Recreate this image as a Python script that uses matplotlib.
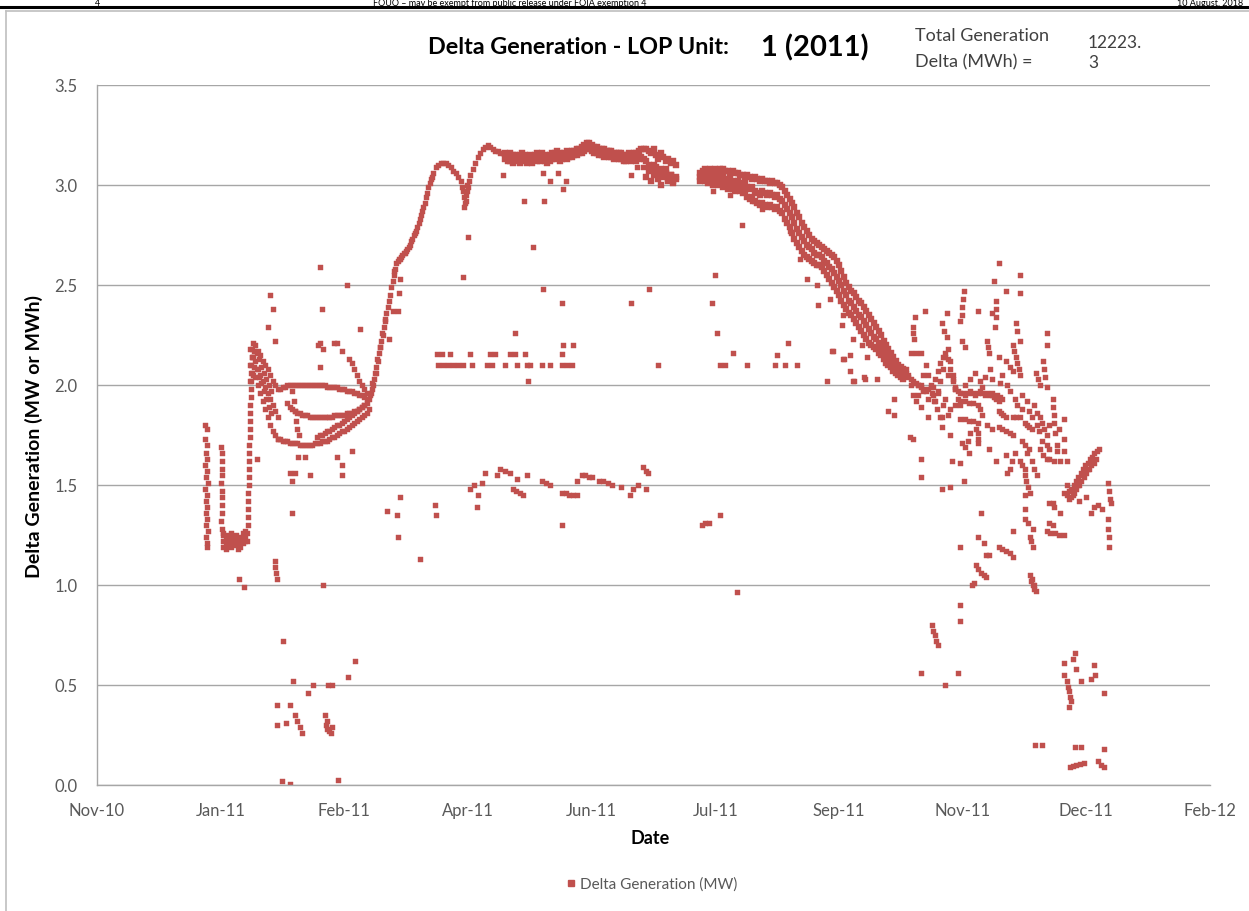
import numpy as np
import pandas as pd
import matplotlib
matplotlib.use('Agg')
import matplotlib.pyplot as plt
import matplotlib.dates as mdates
from matplotlib.lines import Line2D

plt.rcParams['font.family'] = ['Lato', 'DejaVu Sans']

# ---- data: day of year 2011 (0 = 1 Jan) and delta generation (MW) ----

# January: two vertical columns and the low cluster
jan_col1_days = [-0.3, 0.4, -0.2, 0.5, -0.1, 0.6, -0.3, 0.4, 0.0, 0.7, -0.2, 0.5, 0.1, 0.6, -0.1, 0.4, 0.2, 0.7, 0.0, 0.5, 0.3]
jan_col1_vals = [1.80, 1.78, 1.73, 1.70, 1.66, 1.63, 1.60, 1.57, 1.54, 1.51, 1.48, 1.45, 1.42, 1.39, 1.36, 1.33, 1.30, 1.27, 1.24, 1.21, 1.19]
jan_col2_days = [6.3, 6.6, 6.4, 6.7, 6.5, 6.3, 6.6, 6.4, 6.7, 6.5, 6.3, 6.6, 6.8]
jan_col2_vals = [1.69, 1.66, 1.62, 1.58, 1.55, 1.51, 1.47, 1.44, 1.40, 1.36, 1.32, 1.28, 1.25]
jan_low_start = 7
jan_low_top = [1.26, 1.24, 1.25, 1.26, 1.24, 1.25, 1.23, 1.24, 1.26, 1.27]
jan_low_mid = [1.22, 1.21, 1.23, 1.22, 1.22, 1.23, 1.21, 1.22, 1.24, 1.24]
jan_low_bot = [1.19, 1.18, 1.20, 1.19, 1.21, 1.20, 1.18, 1.19, 1.21, 1.22]
jan_rise_days = [16.7, 16.8, 16.9, 17.0, 17.0, 17.1, 17.2, 17.3, 17.3, 17.4, 17.5, 17.6, 17.6, 17.7,
                 17.8, 17.9, 17.9, 18.0, 18.1, 18.2, 18.2, 18.3, 18.4, 18.5, 18.6]
jan_rise_vals = [1.22, 1.26, 1.30, 1.34, 1.38, 1.42, 1.46, 1.50, 1.54, 1.58, 1.62, 1.66, 1.70, 1.74,
                 1.78, 1.82, 1.86, 1.90, 1.94, 1.98, 2.02, 2.06, 2.10, 2.14, 2.18]

# late January / February loops
feb_start = 18
feb_top = [2.18, 2.21, 2.20, 2.17, 2.15, 2.12, 2.10, 2.08, 2.05, 2.02, 2.00, 1.98]
feb_mid = [2.10, 2.14, 2.12, 2.08, 2.05, 2.02, 1.99, 1.96, 1.93, 1.90, 1.87, 1.84]
feb_bot = [2.02, 2.05, 2.04, 2.00, 1.96, 1.92, 1.88, 1.84, 1.80, 1.77, 1.75, 1.73]
feb_half_start = 18.5
feb_half_a = [2.14, 2.17, 2.16, 2.13, 2.09, 2.06, 2.03, 2.00, 1.97]
feb_half_b = [2.06, 2.09, 2.08, 2.04, 2.01, 1.97, 1.93, 1.89, 1.86]
arc_up_start = 30
arc_up = [1.98, 1.99, 1.99, 2.00, 2.00, 2.00, 2.00, 2.00, 2.00, 2.00,
          2.00, 2.00, 2.00, 2.00, 2.00, 2.00, 2.00, 2.00, 2.00, 1.99,
          1.99, 1.99, 1.99, 1.99, 1.98, 1.98, 1.98, 1.97, 1.97, 1.97,
          1.96, 1.96, 1.95, 1.95, 1.94, 1.93]
arc_low_start = 33
arc_low = [1.91, 1.89, 1.88, 1.87, 1.86, 1.86, 1.85, 1.85, 1.85, 1.84,
           1.84, 1.84, 1.84, 1.84, 1.84, 1.84, 1.84, 1.84, 1.84, 1.85,
           1.85, 1.85, 1.85, 1.85, 1.86, 1.86, 1.86, 1.87, 1.87, 1.88,
           1.89, 1.90, 1.91]
feb_floor_start = 29
feb_floor = [1.73, 1.73, 1.72, 1.72, 1.72, 1.71, 1.71, 1.71, 1.71, 1.70,
             1.70, 1.70, 1.70, 1.70, 1.70, 1.71, 1.71, 1.71, 1.72, 1.72,
             1.72, 1.73, 1.74, 1.74, 1.75, 1.76, 1.77, 1.77, 1.78, 1.79,
             1.80, 1.81, 1.82, 1.83, 1.84, 1.85, 1.86, 1.88]
feb_ramp_start = 45
feb_ramp = [1.74, 1.75, 1.75, 1.76, 1.77, 1.77, 1.78, 1.79, 1.80, 1.80,
            1.81, 1.82, 1.83, 1.84, 1.85, 1.86, 1.87, 1.88, 1.89, 1.90]
feb_slash_start = 58
feb_slash = [2.13, 2.11, 2.08, 2.05, 2.02, 2.00, 1.98, 1.96]

# spring rise to the summer plateau
spring_start = 66
spring = [1.93, 1.98, 2.03, 2.09, 2.16, 2.22, 2.29, 2.36, 2.42, 2.49,
          2.55, 2.61, 2.63, 2.64, 2.66, 2.67, 2.69, 2.72, 2.75, 2.77,
          2.81, 2.85, 2.89, 2.94, 2.99, 3.03, 3.06, 3.09, 3.10, 3.11,
          3.11, 3.11, 3.10, 3.09, 3.07, 3.06, 3.04, 3.02, 2.97, 2.92,
          2.99, 3.05, 3.08, 3.11, 3.14, 3.16, 3.18, 3.19, 3.20, 3.19,
          3.18, 3.17, 3.17, 3.16, 3.16]
spring_half_start = 66.5
spring_half = [1.95, 2.00, 2.06, 2.12, 2.19, 2.25, 2.32, 2.39, 2.45, 2.52,
               2.58, 2.62, 2.63, 2.65, 2.66, 2.68, 2.70, 2.73, 2.76, 2.79,
               2.83, 2.87, 2.91, 2.96, 3.01, 3.04]

# plateau April - July
plateau_start = 121
plateau_top = [3.16, 3.15, 3.16, 3.15, 3.15, 3.14, 3.15, 3.16, 3.15, 3.14,
               3.15, 3.14, 3.15, 3.16, 3.15, 3.16, 3.15, 3.14, 3.15, 3.16,
               3.16, 3.17, 3.16, 3.15, 3.16, 3.17, 3.16, 3.17, 3.17, 3.18,
               3.18, 3.19, 3.20, 3.21, 3.21, 3.20, 3.19, 3.19, 3.18, 3.18,
               3.18, 3.17, 3.17, 3.17, 3.16, 3.16, 3.16, 3.16, 3.15, 3.15,
               3.16, 3.15, 3.16, 3.16, 3.17, 3.18, 3.18, 3.18, 3.17, 3.16,
               3.18, 3.15, 3.13, 3.16, 3.14, 3.12, 3.13, 3.11, 3.12, 3.10]
plateau_bot = [3.13, 3.12, 3.12, 3.11, 3.13, 3.12, 3.11, 3.13, 3.12, 3.11,
               3.12, 3.11, 3.13, 3.12, 3.12, 3.13, 3.12, 3.11, 3.12, 3.13,
               3.13, 3.14, 3.12, 3.13, 3.14, 3.13, 3.14, 3.14, 3.15, 3.15,
               3.16, 3.16, 3.17, 3.18, 3.18, 3.17, 3.16, 3.16, 3.15, 3.15,
               3.14, 3.15, 3.14, 3.14, 3.13, 3.14, 3.13, 3.13, 3.12, 3.12,
               3.13, 3.12, 3.13, 3.12, 3.13, 3.14, 3.13, 3.12, 3.10, 3.08,
               3.10, 3.06, 3.05, 3.08, 3.04, 3.06, 3.03, 3.05, 3.02, 3.04]
plateau_tail_start = 178
plateau_tail = [3.04, 3.07, 3.02, 3.05, 3.09, 3.03, 3.00, 3.06, 3.08, 3.02, 3.05, 3.01, 3.03]

# summer decline July - October
summer_start = 200
summer_top = [3.06, 3.07, 3.08, 3.07, 3.08, 3.07, 3.08, 3.07, 3.08, 3.08,
              3.07, 3.07, 3.06, 3.07, 3.06, 3.06, 3.05, 3.05, 3.04, 3.05,
              3.04, 3.03, 3.04, 3.03, 3.02, 3.03, 3.02, 3.02, 3.01, 3.02,
              3.01, 3.01, 3.00, 2.99, 2.97, 2.95, 2.93, 2.91, 2.89, 2.86,
              2.84, 2.81, 2.79, 2.77, 2.75, 2.73, 2.72, 2.71, 2.70, 2.69,
              2.68, 2.67, 2.66, 2.65, 2.64, 2.62, 2.60, 2.57, 2.54, 2.51,
              2.49, 2.47, 2.46, 2.44, 2.42, 2.41, 2.39, 2.37, 2.35, 2.33,
              2.31, 2.29, 2.27, 2.25, 2.22, 2.20, 2.18, 2.16, 2.14, 2.12,
              2.10, 2.09, 2.08]
summer_mid = [3.04, 3.05, 3.05, 3.04, 3.05, 3.03, 3.04, 3.03, 3.05, 3.04,
              3.03, 3.02, 3.03, 3.02, 3.01, 3.02, 3.01, 3.00, 3.01, 2.99,
              2.98, 2.99, 2.97, 2.96, 2.95, 2.97, 2.96, 2.95, 2.96, 2.95,
              2.94, 2.95, 2.93, 2.92, 2.90, 2.88, 2.86, 2.84, 2.81, 2.78,
              2.76, 2.74, 2.72, 2.70, 2.69, 2.68, 2.66, 2.65, 2.65, 2.64,
              2.62, 2.61, 2.59, 2.58, 2.56, 2.54, 2.52, 2.50, 2.47, 2.45,
              2.42, 2.41, 2.39, 2.37, 2.35, 2.34, 2.32, 2.30, 2.28, 2.26,
              2.24, 2.23, 2.21, 2.19, 2.17, 2.15, 2.14, 2.12, 2.11, 2.09,
              2.07, 2.06, 2.05]
summer_bot = [3.02, 3.03, 3.02, 3.01, 3.02, 3.00, 3.01, 3.00, 3.01, 2.99,
              3.00, 2.98, 2.99, 2.98, 2.97, 2.98, 2.97, 2.96, 2.97, 2.94,
              2.93, 2.94, 2.92, 2.91, 2.90, 2.91, 2.90, 2.89, 2.90, 2.89,
              2.88, 2.89, 2.87, 2.86, 2.83, 2.81, 2.79, 2.76, 2.73, 2.71,
              2.69, 2.67, 2.65, 2.64, 2.63, 2.62, 2.61, 2.60, 2.60, 2.59,
              2.57, 2.55, 2.53, 2.51, 2.49, 2.47, 2.45, 2.42, 2.40, 2.38,
              2.36, 2.35, 2.33, 2.31, 2.29, 2.27, 2.25, 2.23, 2.21, 2.20,
              2.19, 2.18, 2.16, 2.15, 2.13, 2.11, 2.10, 2.09, 2.07, 2.06,
              2.05, 2.04, 2.03]

# October band with the zig-zag
oct_start = 283
oct_band = [2.06, 2.04, 2.03, 2.02, 2.01, 2.00, 1.99, 1.98, 1.97, 1.98,
            1.99, 1.99, 2.03, 2.07, 2.11, 2.14, 2.16, 2.13, 2.08, 2.03,
            1.99, 1.97, 1.96, 1.96, 1.95, 1.96, 1.97, 1.96, 1.95, 1.96,
            1.97, 1.96, 1.95, 1.96, 1.95, 1.96, 1.94, 1.95, 1.94, 1.93]
oct_zigzag = [2.08, 2.05, 2.00, 1.95, 1.92, 1.95, 2.00, 2.05, 2.10, 2.05,
              2.00, 1.95, 1.92, 1.96, 2.02, 2.08, 2.14, 2.18, 2.12, 2.05,
              1.98, 1.93, 1.90]

# scattered points (day, MW)
scatter_early = [
    (13.3, 1.03), (15.4, 0.99), (20.6, 1.63), (34.8, 1.36), (27.9, 1.12), (28.1, 1.09), (28.4, 1.06),
    (28.7, 1.03), (47.3, 1.00), (25.9, 2.45), (27.0, 2.38), (25.0, 2.29), (27.9, 2.22), (46.0, 2.59),
    (46.9, 2.38), (57.0, 2.50), (62.2, 2.28), (45.3, 2.20), (53.0, 2.21), (55.0, 2.17), (46.0, 2.09),
    (46.0, 2.21), (47.3, 2.18), (52.0, 2.21), (37.2, 1.64), (40.0, 1.64), (53.0, 1.64), (59.0, 1.67),
    (34.0, 1.56), (36.0, 1.56), (34.8, 1.52), (42.0, 1.55), (55.0, 1.60), (55.0, 1.55), (78.4, 1.44),
    (73.2, 1.37), (77.2, 1.35), (77.6, 1.24), (86.5, 1.13), (35.0, 1.97), (35.5, 1.92), (36.0, 1.87),
    (36.5, 1.82), (37.0, 1.78), (37.5, 1.75), (31.1, 0.72), (60.2, 0.62), (57.4, 0.54), (35.2, 0.52),
    (43.2, 0.50), (41.2, 0.46), (49.3, 0.50), (51.0, 0.50), (28.7, 0.40), (34.0, 0.40), (28.7, 0.30),
    (32.3, 0.31), (36.0, 0.35), (37.0, 0.32), (38.0, 0.29), (39.0, 0.26), (48.0, 0.35), (48.5, 0.30),
    (49.0, 0.28), (49.8, 0.27), (50.5, 0.26), (51.0, 0.29), (48.8, 0.32), (30.7, 0.02), (34.0, 0.005),
    (53.4, 0.025), (76.0, 2.57), (78.5, 2.53), (78.0, 2.46), (75.5, 2.37), (77.7, 2.37), (74.0, 2.23),
    (66.8, 1.96), (67.3, 2.01), (68.8, 2.06), (69.4, 2.13), (70.5, 2.19), (71.4, 2.26), (72.6, 2.33),
    (104.5, 2.89), (104.7, 2.91), (104.3, 2.94), (105.3, 2.95), (105.6, 2.97), (105.5, 3.00),
    (103.5, 2.99), (106.5, 3.02),
]
scatter_spring = [
    (93.4, 2.155), (95.4, 2.155), (98.6, 2.155), (106.7, 2.155), (114.8, 2.155), (116.8, 2.155),
    (122.9, 2.155), (124.9, 2.155), (129.0, 2.155), (143.9, 2.155), (148.3, 2.20),
    (93.8, 2.10), (95.8, 2.10), (97.8, 2.10), (99.8, 2.10), (101.9, 2.10), (103.9, 2.10), (107.5, 2.10),
    (113.6, 2.10), (115.6, 2.10), (120.9, 2.10), (125.7, 2.10), (129.7, 2.10), (131.0, 2.10),
    (135.8, 2.10), (139.0, 2.10), (143.9, 2.10), (145.9, 2.10), (147.9, 2.10), (130.2, 2.02),
    (120.0, 3.05), (128.5, 2.92), (136.6, 2.92), (136.2, 3.06), (139.0, 3.02), (142.3, 3.06),
    (144.3, 2.98), (145.5, 3.02), (132.2, 2.69), (124.9, 2.26), (171.8, 3.05), (174.2, 3.09),
    (176.6, 3.09), (103.9, 2.54), (105.9, 2.74), (136.2, 2.48), (143.9, 2.41), (171.8, 2.41),
    (179.1, 2.48), (144.3, 2.20), (182.7, 2.10),
    (92.6, 1.40), (93.0, 1.35), (109.5, 1.39), (110.0, 1.45), (111.6, 1.51), (112.8, 1.56),
    (117.6, 1.55), (118.8, 1.58), (120.9, 1.57), (122.9, 1.56), (125.7, 1.53), (129.7, 1.55),
    (124.0, 1.48), (125.5, 1.47), (127.0, 1.46), (128.2, 1.45), (136.0, 1.52), (137.5, 1.51),
    (139.0, 1.50), (144.0, 1.46), (145.5, 1.46), (147.0, 1.45), (148.5, 1.45), (150.0, 1.45),
    (150.2, 1.52), (152.0, 1.55), (153.5, 1.55), (155.0, 1.54), (156.3, 1.54), (159.0, 1.52),
    (160.6, 1.52), (162.6, 1.51), (164.2, 1.50), (168.0, 1.49), (171.4, 1.45), (172.6, 1.48),
    (174.6, 1.50), (176.6, 1.59), (177.8, 1.57), (178.7, 1.56), (177.8, 1.48), (143.9, 1.30),
    (106.7, 1.48), (108.3, 1.50),
]
scatter_summer = [
    (200.5, 1.30), (202.0, 1.31), (203.5, 1.31), (207.8, 1.35), (214.6, 0.965),
    (204.9, 2.97), (211.8, 2.95), (216.7, 2.80), (220.8, 2.92), (224.8, 2.88), (236.1, 2.77),
    (240.1, 2.63), (242.9, 2.53), (247.0, 2.50), (247.4, 2.40), (252.2, 2.43), (257.5, 2.35),
    (257.1, 2.30), (261.5, 2.23), (253.4, 2.17), (257.5, 2.13), (265.2, 2.20), (267.2, 2.14),
    (260.3, 2.07), (266.4, 2.03), (271.2, 2.03), (261.5, 2.02), (251.0, 2.02),
    (205.7, 2.55), (204.5, 2.41), (206.5, 2.26), (213.0, 2.16), (207.8, 2.10), (209.8, 2.10),
    (218.7, 2.10), (235.2, 2.21), (230.8, 2.15), (230.0, 2.10), (234.0, 2.10), (238.9, 2.10),
    (253.0, 2.17), (257.9, 2.13), (260.3, 2.15), (261.9, 2.02), (266.0, 2.04), (275.7, 1.87),
    (278.1, 1.85), (278.1, 1.93), (284.9, 1.74),
]
scatter_autumn = [
    (306.4, 2.47), (306.0, 2.43), (305.8, 2.39), (305.6, 2.35), (305.0, 2.32), (318.5, 2.52),
    (320.5, 2.61), (329.0, 2.55), (329.0, 2.46), (323.4, 2.47), (319.3, 2.42), (319.5, 2.38),
    (319.3, 2.34), (319.0, 2.29), (312.4, 2.37), (317.7, 2.36), (299.5, 2.36), (290.6, 2.37),
    (286.6, 2.34), (285.8, 2.29), (286.0, 2.26), (286.2, 2.23), (285.0, 2.16), (287.0, 2.16),
    (289.0, 2.16), (297.5, 2.31), (298.5, 2.27), (299.5, 2.24), (305.6, 2.22), (306.8, 2.19),
    (327.4, 2.31), (328.0, 2.27), (329.0, 2.22), (326.2, 2.20), (326.8, 2.17), (327.4, 2.14),
    (328.0, 2.11), (328.6, 2.08), (329.0, 2.05), (315.7, 2.22), (316.2, 2.19), (316.5, 2.16),
    (320.5, 2.14), (323.4, 2.12), (325.0, 2.09), (326.2, 2.07), (338.3, 2.12), (338.8, 2.08),
    (339.3, 2.04), (339.9, 1.99), (339.9, 2.26), (339.9, 2.20), (335.5, 2.06), (336.5, 2.03),
    (337.1, 2.00),
    (304.8, 1.92), (306.8, 1.92), (308.4, 1.91), (310.0, 1.91), (312.4, 1.90), (304.8, 1.83),
    (306.8, 1.83), (308.4, 1.82), (310.0, 1.82), (312.4, 1.81), (311.2, 1.78), (312.0, 1.76),
    (312.4, 1.73), (317.7, 1.95), (318.5, 1.94), (319.3, 1.93), (320.5, 1.92), (320.5, 1.87),
    (321.5, 1.86), (322.5, 1.85), (323.4, 1.84), (320.5, 1.79), (322.0, 1.78), (323.4, 1.77),
    (325.0, 1.76), (326.2, 1.75), (326.2, 1.84), (327.4, 1.84), (329.0, 1.84), (331.0, 1.81),
    (332.0, 1.80), (333.0, 1.79), (334.0, 1.78), (323.4, 1.65), (329.0, 1.62), (330.0, 1.60),
    (331.0, 1.58), (337.1, 1.84), (338.0, 1.81), (338.8, 1.78), (339.9, 1.75), (342.4, 1.93),
    (342.6, 1.89), (342.8, 1.85), (343.0, 1.81), (343.2, 1.76), (346.8, 1.73), (341.1, 1.63),
    (343.0, 1.62), (345.2, 1.62), (337.1, 1.68), (338.5, 1.65), (339.9, 1.63), (293.4, 1.96),
    (294.5, 1.92), (295.5, 1.88), (296.7, 1.84), (297.5, 1.84), (289.0, 1.89), (291.8, 1.84),
    (297.5, 1.79), (299.9, 1.85), (305.6, 1.71), (308.4, 1.66), (312.4, 1.71), (316.5, 1.68),
    (319.3, 1.62), (300.7, 1.75), (301.5, 1.62), (304.8, 1.61), (285.8, 1.73), (289.0, 1.63),
    (289.0, 1.54), (297.5, 1.48), (300.7, 1.49), (306.4, 1.52),
    (300.0, 2.05), (302.0, 2.02), (303.0, 1.98), (307.0, 2.00), (309.0, 2.03), (311.0, 2.06),
    (313.0, 2.02), (314.0, 1.99), (315.0, 2.04), (317.0, 2.08), (318.0, 2.03), (321.0, 2.01),
    (322.0, 2.05), (324.0, 2.00), (325.0, 1.97), (327.0, 1.93), (328.0, 1.90), (330.0, 1.88),
    (330.0, 1.95), (332.0, 1.92), (333.0, 1.87), (334.0, 1.84), (335.0, 1.90), (336.0, 1.86),
    (336.0, 1.80), (337.0, 1.77), (338.0, 1.72), (340.0, 1.70), (341.0, 1.68), (341.0, 1.80),
    (344.0, 1.70), (344.0, 1.67), (345.0, 1.78), (347.0, 1.83), (347.0, 1.67), (348.0, 1.62),
    (330.0, 1.72), (331.0, 1.70), (332.0, 1.66), (333.0, 1.68), (334.0, 1.62), (335.0, 1.58),
    (336.0, 1.55), (327.0, 1.66), (326.0, 1.62), (325.0, 1.58), (324.0, 1.56), (318.0, 1.78),
    (316.0, 1.80), (314.0, 1.85), (313.0, 1.88), (309.0, 1.76), (308.0, 1.72), (307.0, 1.69),
    (303.0, 1.90), (301.0, 1.88), (299.0, 1.93), (298.0, 1.90), (296.0, 1.97), (292.0, 1.93),
    (290.0, 1.97), (288.0, 2.00),
    (331.4, 1.55), (331.8, 1.52), (332.5, 1.49), (333.1, 1.46), (331.0, 1.45), (331.4, 1.38),
    (331.4, 1.33), (332.5, 1.31), (334.3, 1.28), (333.1, 1.24), (333.6, 1.22), (334.3, 1.19),
    (320.5, 1.19), (322.0, 1.18), (323.4, 1.17), (325.0, 1.16), (326.2, 1.14), (311.2, 1.10),
    (312.4, 1.08), (313.3, 1.06), (314.5, 1.05), (315.3, 1.04), (315.3, 1.15), (316.5, 1.15),
    (312.4, 1.24), (313.3, 1.36), (304.8, 1.19), (314.5, 1.21), (326.2, 1.27), (309.6, 1.00),
    (310.5, 1.01), (333.1, 1.05), (333.6, 1.02), (334.3, 1.00), (334.8, 0.98), (335.5, 0.97),
    (334.0, 1.03), (335.0, 1.00), (339.9, 1.27), (341.5, 1.26), (343.2, 1.26), (345.0, 1.25),
    (346.8, 1.25), (341.1, 1.31), (342.4, 1.30), (342.4, 1.41), (346.8, 1.46), (348.0, 1.50),
    (341.1, 1.41), (343.0, 1.39), (345.2, 1.36),
    (348.0, 1.45), (349.0, 1.47), (350.0, 1.48), (350.9, 1.50), (351.8, 1.52), (352.7, 1.54),
    (353.7, 1.56), (354.6, 1.58), (355.5, 1.60), (356.5, 1.61), (357.4, 1.63), (358.3, 1.64),
    (359.3, 1.66), (360.2, 1.67), (361.0, 1.68), (349.0, 1.43), (350.0, 1.44), (351.0, 1.46),
    (352.0, 1.48), (353.0, 1.50), (354.0, 1.52), (355.0, 1.54), (356.0, 1.56), (357.0, 1.58),
    (358.0, 1.60), (359.0, 1.61), (360.0, 1.63), (350.5, 1.45), (352.5, 1.50), (354.5, 1.55),
    (356.5, 1.58), (358.5, 1.62), (364.6, 1.51), (365.0, 1.47), (365.4, 1.43), (365.8, 1.41),
    (364.6, 1.33), (364.8, 1.28), (365.0, 1.24), (365.0, 1.19), (360.9, 1.40), (362.5, 1.38),
    (359.0, 1.39), (356.0, 1.44), (353.0, 1.42), (357.7, 1.36),
    (304.8, 0.90), (304.8, 0.82), (293.4, 0.80), (294.0, 0.77), (294.7, 0.75), (295.3, 0.72),
    (296.0, 0.70), (289.0, 0.56), (304.0, 0.56), (298.7, 0.50),
    (351.3, 0.66), (346.8, 0.61), (350.5, 0.63), (352.0, 0.58), (348.0, 0.52), (348.5, 0.49),
    (349.0, 0.47), (349.5, 0.44), (350.0, 0.42), (347.0, 0.55), (353.7, 0.52), (358.9, 0.60),
    (359.7, 0.55), (357.7, 0.53), (363.0, 0.46), (348.8, 0.39),
    (335.1, 0.20), (337.9, 0.20), (351.3, 0.19), (353.7, 0.19), (363.0, 0.18), (349.2, 0.09),
    (350.5, 0.095), (352.0, 0.10), (353.5, 0.105), (354.9, 0.11), (360.9, 0.12), (362.0, 0.10),
    (363.0, 0.09),
]

x_ticks = ['2010-11-18', '2011-01-07', '2011-02-26', '2011-04-17', '2011-06-06',
           '2011-07-26', '2011-09-14', '2011-11-03', '2011-12-23', '2012-02-11']
total_generation = '12223.\n3'


def runs(groups):
    d_out, v_out = [], []
    for start, series in groups:
        d_out += list(start + np.arange(len(series)))
        v_out += list(series)
    return d_out, v_out


def to_dates(day_list):
    return pd.Timestamp('2011-01-01') + pd.to_timedelta(np.array(day_list), unit='D')


# dense bands (drawn with slightly larger markers, as the hourly record is solid there)
band_days, band_vals = runs([(plateau_start, plateau_top), (plateau_start, plateau_bot),
                             (plateau_tail_start, plateau_tail),
                             (summer_start, summer_top), (summer_start, summer_mid),
                             (summer_start, summer_bot)])

# everything else
days, vals = runs([(jan_low_start, jan_low_top), (jan_low_start, jan_low_mid), (jan_low_start, jan_low_bot),
                   (feb_start, feb_top), (feb_start, feb_mid), (feb_start, feb_bot),
                   (feb_half_start, feb_half_a), (feb_half_start, feb_half_b),
                   (arc_up_start, arc_up), (arc_low_start, arc_low), (feb_floor_start, feb_floor),
                   (feb_ramp_start, feb_ramp), (feb_slash_start, feb_slash),
                   (spring_start, spring), (spring_half_start, spring_half),
                   (oct_start, oct_band), (oct_start, oct_zigzag)])
days += jan_col1_days + jan_col2_days + jan_rise_days
vals += jan_col1_vals + jan_col2_vals + jan_rise_vals
for pts in [scatter_early, scatter_spring, scatter_summer, scatter_autumn]:
    days += [p[0] for p in pts]
    vals += [p[1] for p in pts]

# ---- figure ----
fig = plt.figure(figsize=(12.49, 9.12), dpi=100)
ax = fig.add_axes([97 / 1249, 1 - 786 / 912, (1210 - 97) / 1249, 700 / 912])

red = '#C0504D'
ax.plot(to_dates(band_days), band_vals, linestyle='none', marker='s', markersize=4.6,
        markerfacecolor=red, markeredgecolor=red, markeredgewidth=0.3)
ax.plot(to_dates(days), vals, linestyle='none', marker='s', markersize=3.6,
        markerfacecolor=red, markeredgecolor=red, markeredgewidth=0.3)

tick_dates = pd.to_datetime(x_ticks)
ax.set_xlim(tick_dates[0], tick_dates[-1])
ax.set_xticks(tick_dates)
ax.xaxis.set_major_formatter(mdates.DateFormatter('%b-%y'))
ax.set_ylim(0, 3.5)
ax.set_yticks(np.arange(0, 3.51, 0.5))
ax.yaxis.set_major_formatter(plt.FormatStrFormatter('%.1f'))
ax.grid(axis='y', color='#A6A6A6', linewidth=1.0)
ax.set_axisbelow(True)
for s in ['top', 'right']:
    ax.spines[s].set_visible(False)
for s in ['left', 'bottom']:
    ax.spines[s].set_color('#A6A6A6')
    ax.spines[s].set_linewidth(1.0)
ax.tick_params(axis='both', length=0, labelsize=12, labelcolor='#595959')
ax.tick_params(axis='x', pad=12)
ax.tick_params(axis='y', pad=14)

# axis titles
fig.text(650 / 1249, 1 - 839 / 912, 'Date', fontsize=13, fontweight='bold',
         ha='center', va='center')
fig.text(34 / 1249, 1 - 437 / 912, 'Delta Generation (MW or MWh)', fontsize=14,
         fontweight='bold', rotation=90, ha='center', va='center')

# titles and annotation boxes
fig.text(578 / 1249, 1 - 48 / 912, 'Delta Generation - LOP Unit:', fontsize=16.8,
         fontweight='bold', ha='center', va='center')
fig.text(815 / 1249, 1 - 48 / 912, '1 (2011)', fontsize=21, fontweight='bold',
         ha='center', va='center')
fig.text(915 / 1249, 1 - 36 / 912, 'Total Generation', fontsize=13, color='#404040',
         ha='left', va='center')
fig.text(915 / 1249, 1 - 62 / 912, 'Delta (MWh) =', fontsize=13, color='#404040',
         ha='left', va='center')
fig.text(1088 / 1249, 1 - 53 / 912, total_generation, fontsize=12.5, color='#404040',
         ha='left', va='center', linespacing=1.35)

# legend at the bottom
handle = Line2D([], [], linestyle='none', marker='s', markersize=4,
                markerfacecolor=red, markeredgecolor=red)
fig.legend([handle], ['Delta Generation (MW)'], loc='center',
           bbox_to_anchor=(652 / 1249, 1 - 885 / 912), frameon=False,
           fontsize=11, labelcolor='#595959', handlelength=0.6, handletextpad=0.3)

# page header above the chart frame
fig.text(98 / 1249, 1 - 6 / 912, '4', fontsize=6.5, ha='center', va='baseline')
fig.text(510 / 1249, 1 - 6 / 912, 'FOUO \u2013 may be exempt from public release under FOIA exemption 4',
         fontsize=6.5, ha='center', va='baseline')
fig.text(1243 / 1249, 1 - 6 / 912, '10 August, 2018', fontsize=6.5, ha='right', va='baseline')
fig.add_artist(Line2D([0, 1], [1 - 8 / 912, 1 - 8 / 912], color='black', linewidth=2.2))
fig.add_artist(Line2D([6 / 1249, 1], [1 - 12 / 912, 1 - 12 / 912], color='#BFBFBF', linewidth=1.2))
fig.add_artist(Line2D([6 / 1249, 6 / 1249], [0, 1 - 12 / 912], color='#BFBFBF', linewidth=1.2))

fig.savefig('out.png', dpi=100)
